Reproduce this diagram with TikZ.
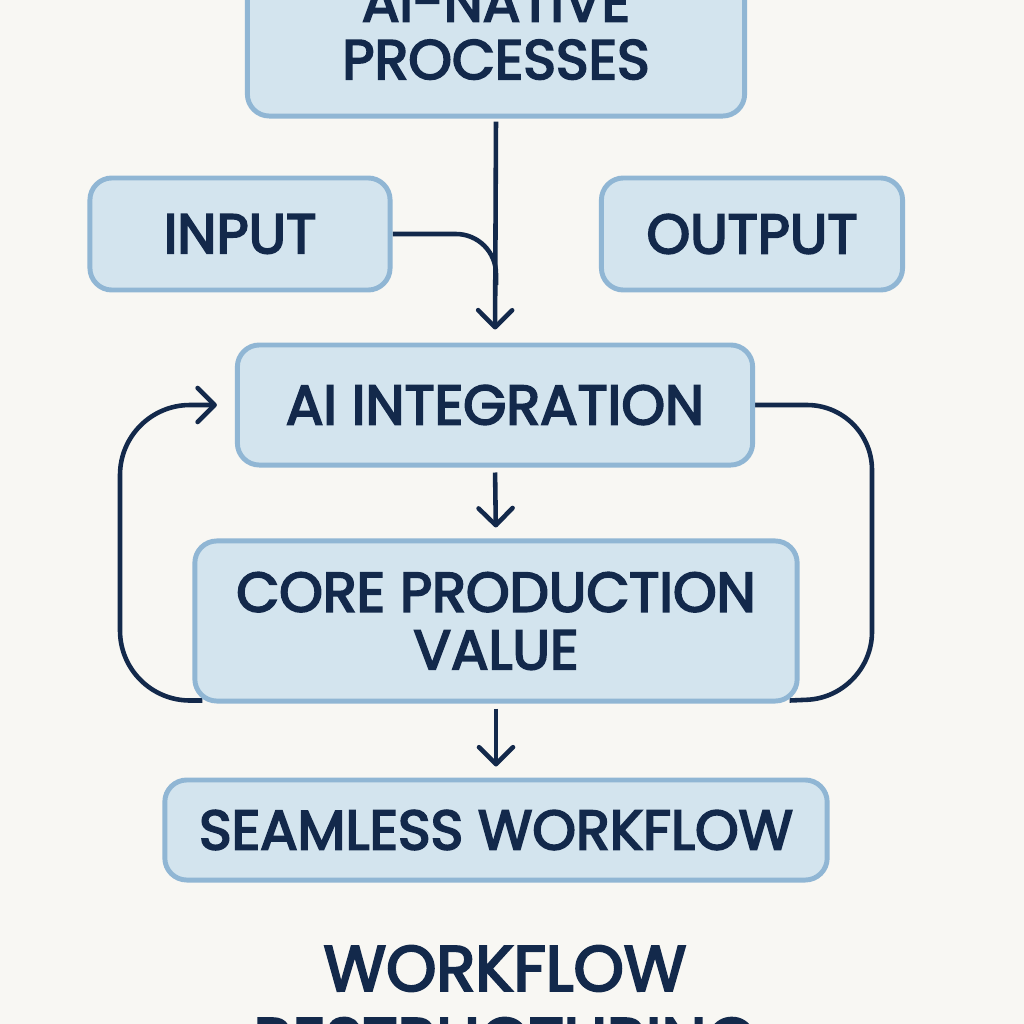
\documentclass[tikz,border=0pt]{standalone}
\usepackage{fontspec}
\setmainfont{Poppins}[BoldFont=Poppins, BoldFeatures={FakeBold=3.5}]
\usetikzlibrary{arrows.meta,calc}
\definecolor{navy}{HTML}{13294B}
\definecolor{boxfill}{HTML}{D3E4EE}
\definecolor{boxline}{HTML}{90B6D4}
\definecolor{paper}{HTML}{F8F7F3}
\pgfdeclarelayer{paper}
\pgfdeclarelayer{behind}
\pgfsetlayers{paper,behind,main}
\tikzset{%
   box/.style={draw=boxline, fill=boxfill, line width=1.4pt, rounded corners=0.22cm,%
      text=navy, font=\fontsize{15.8}{16.4}\selectfont\bfseries, align=center, inner sep=0pt},%
   link/.style={draw=navy, line width=1.3pt},%
   arr/.style={link, -{Straight Barb[length=0.17cm,width=0.34cm,round]}},%
}
\begin{document}
\begin{tikzpicture}[x=0.01cm,y=-0.01cm]%
      % ~ page
      \useasboundingbox (0,0) rectangle (1024,1024);%
      \begin{pgfonlayer}{paper}%
         \fill[paper] (0,0) rectangle (1024,1024);%
      \end{pgfonlayer}%
      \clip (0,0) rectangle (1024,1024);%
      % ~ boxes
      \node[box, minimum width=4.97cm, minimum height=1.7cm] (proc) at (496,31) {AI-NATIVE\\PROCESSES};
      \node[box, minimum width=3.0cm, minimum height=1.12cm] (input) at (240,234) {INPUT};
      \node[box, minimum width=3.01cm, minimum height=1.12cm] (output) at (752,234) {OUTPUT};
      \node[box, minimum width=5.15cm, minimum height=1.2cm] (integ) at (495,405) {AI INTEGRATION};
      \node[box, minimum width=6.02cm, minimum height=1.6cm] (core) at (496,621) {CORE PRODUCTION\\VALUE};
      \node[box, minimum width=6.62cm, minimum height=1.0cm] (seam) at (496,830) {SEAMLESS WORKFLOW};
      % ~ title
      \node[text=navy, font=\fontsize{18.2}{20.5}\selectfont\bfseries, align=center, inner sep=0pt, anchor=north] (title) at (505,945) {WORKFLOW\\RESTRUCTURING};
      % ~ links
      \coordinate (join) at (proc.south |- 0,285);%
      \coordinate (loopL) at (120,405);%
      \coordinate (loopR) at (872,697);%
      \begin{pgfonlayer}{behind}%
         % draw main line
         \draw[arr, shorten <=0.03cm, shorten >=0.13cm] (proc.south) -- (integ.north);%
         \draw[link, rounded corners=0.4cm] (input.east) -| (join);%
         % draw down arrows
         \foreach \a/\b in {integ/core, core/seam}%
            {%
               \draw[arr, shorten <=0.05cm, shorten >=0.11cm] (\a.south) -- (\b.north);%
            }%
         % draw loops
         \draw[arr, rounded corners=0.7cm, shorten >=0.18cm] ($(core.south west)+(10,-3)$) -| (loopL) -- (integ.west);%
         \draw[link, rounded corners=0.65cm] (integ.east) -| (loopR) -- ($(core.south east)+(-10,-3)$);%
      \end{pgfonlayer}%
         %
   \end{tikzpicture}
\end{document}
